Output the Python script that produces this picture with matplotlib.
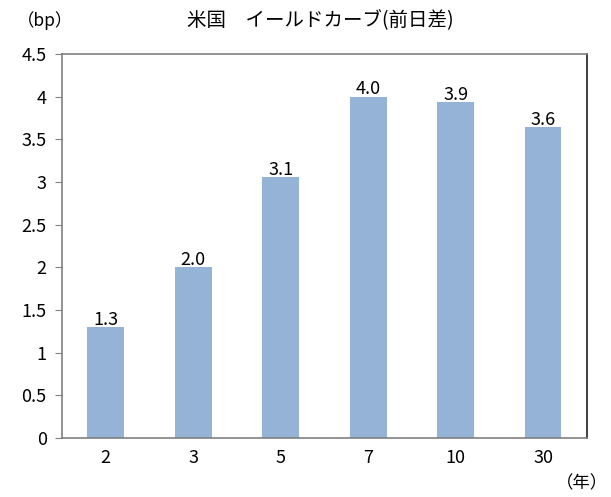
import matplotlib
matplotlib.use("Agg")
import matplotlib.pyplot as plt

plt.rcParams['font.family'] = ['Noto Sans CJK JP', 'DejaVu Sans']

# data
maturities = ["2", "3", "5", "7", "10", "30"]
changes = [1.3, 2.0, 3.06, 4.0, 3.94, 3.64]
yticks = [0, 0.5, 1, 1.5, 2, 2.5, 3, 3.5, 4, 4.5]
ytick_labels = ["0", "0.5", "1", "1.5", "2", "2.5", "3", "3.5", "4", "4.5"]

fig = plt.figure(figsize=(6.11, 4.97), dpi=100)
ax = fig.add_axes([0.1015, 0.1187, 0.859, 0.7726])

x = range(len(maturities))
bars = ax.bar(x, changes, width=0.42, color="#95B3D7")
for xi, v in zip(x, changes):
    ax.text(xi, v - 0.02, f"{v:.1f}", ha="center", va="bottom", fontsize=13)

ax.set_xlim(-0.5, len(maturities) - 0.5)
ax.set_ylim(0, 4.5)
ax.set_xticks(list(x))
ax.set_xticklabels(maturities, fontsize=13)
ax.set_yticks(yticks)
ax.set_yticklabels(ytick_labels, fontsize=13)
ax.tick_params(axis="x", length=0, pad=8)
ax.tick_params(axis="y", length=5, color="#808080", pad=6)
for s in ax.spines.values():
    s.set_color("#808080")
    s.set_linewidth(1.2)
ax.spines["right"].set_color("#202020")

fig.text(0.525, 0.958, "米国　イールドカーブ(前日差)", ha="center", va="center", fontsize=14)
fig.text(0.028, 0.958, "（bp）", ha="left", va="center", fontsize=12.5)
fig.text(0.995, 0.028, "（年）", ha="right", va="center", fontsize=12.5)

fig.savefig("out.png", dpi=100)
